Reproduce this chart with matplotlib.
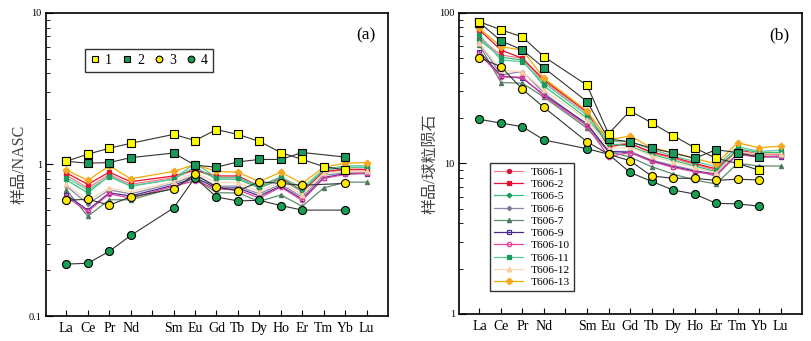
import numpy as np
import matplotlib
matplotlib.use("Agg")
import matplotlib.pyplot as plt
from matplotlib.ticker import LogLocator, FuncFormatter, NullFormatter
from matplotlib.lines import Line2D

plt.rcParams["font.family"] = ["Liberation Serif", "Noto Sans CJK SC"]

nan = np.nan
# element order on the x axis (Pm left blank)
elements = ["La", "Ce", "Pr", "Nd", "", "Sm", "Eu", "Gd", "Tb", "Dy", "Ho", "Er", "Tm", "Yb", "Lu"]
x_pos = [1, 2, 3, 4, 6, 7, 8, 9, 10, 11, 12, 13, 14, 15]

# reference groups 1-4, NASC normalised (panel a)
g1_a = [1.05, 1.17, 1.28, 1.38, 1.58, 1.44, 1.70, 1.58, 1.42, 1.20, 1.08, 0.97, 0.92, nan]
g2_a = [1.05, 1.02, 1.03, 1.11, 1.19, 0.99, 0.96, 1.04, 1.08, 1.08, 1.20, nan, 1.12, nan]
g3_a = [0.58, 0.59, 0.54, 0.61, 0.69, 0.86, 0.71, 0.67, 0.77, 0.75, 0.73, nan, 0.75, nan]
g4_a = [0.22, 0.223, 0.267, 0.34, 0.516, 0.82, 0.61, 0.575, 0.58, 0.536, 0.50, nan, 0.50, nan]

# reference groups 1-4, chondrite normalised (panel b)
g1_b = [87, 77, 69, 51, 33, 15.7, 22.3, 18.6, 15.3, 12.7, 10.8, 10.0, 9.0, nan]
g2_b = [86, 65, 56.5, 43, 25.7, 14.5, 13.9, 12.6, 11.7, 10.8, 12.3, 11.8, 11.0, nan]
g3_b = [50.2, 43.8, 31.0, 23.5, 13.9, 11.5, 10.4, 8.25, 7.96, 7.96, 7.7, 7.85, 7.75, nan]
g4_b = [19.6, 18.5, 17.5, 14.3, 12.5, 11.5, 8.7, 7.6, 6.65, 6.26, 5.43, 5.38, 5.2, nan]

# T606 samples, NASC normalised
t1_a = [0.85, 0.70, 0.86, 0.74, 0.82, 0.92, 0.82, 0.82, 0.70, 0.80, 0.66, 0.88, 0.92, 0.92]
t2_a = [0.88, 0.74, 0.89, 0.77, 0.84, 0.92, 0.84, 0.84, 0.72, 0.82, 0.67, 0.90, 0.93, 0.93]
t5_a = [0.79, 0.65, 0.84, 0.72, 0.80, 0.96, 0.80, 0.80, 0.70, 0.80, 0.67, 0.92, 0.96, 0.96]
t6_a = [0.72, 0.55, 0.68, 0.64, 0.75, 0.85, 0.72, 0.72, 0.64, 0.74, 0.61, 0.85, 0.88, 0.88]
t7_a = [0.68, 0.455, 0.585, 0.585, 0.70, 0.82, 0.65, 0.65, 0.57, 0.63, 0.53, 0.70, 0.765, 0.765]
t9_a = [0.63, 0.50, 0.65, 0.62, 0.73, 0.82, 0.70, 0.70, 0.62, 0.72, 0.59, 0.82, 0.87, 0.87]
t10_a = [0.61, 0.49, 0.64, 0.60, 0.72, 0.78, 0.69, 0.68, 0.60, 0.71, 0.58, 0.81, 0.86, 0.88]
t11_a = [0.82, 0.68, 0.83, 0.72, 0.80, 1.02, 0.82, 0.82, 0.72, 0.83, 0.70, 0.93, 0.98, 0.98]
t12_a = [0.74, 0.58, 0.70, 0.66, 0.77, 0.88, 0.76, 0.76, 0.66, 0.77, 0.63, 0.88, 0.90, 0.90]
t13_a = [0.92, 0.785, 0.98, 0.805, 0.90, 1.00, 0.90, 0.89, 0.77, 0.89, 0.75, 0.96, 1.02, 1.03]

# T606 samples, chondrite normalised
t1_b = [67.6, 52.4, 49.8, 34.9, 21.6, 13.2, 13.6, 11.7, 10.8, 9.85, 9.0, 12.0, 11.3, 11.5]
t2_b = [76.7, 56.5, 49.8, 35.8, 22.0, 12.9, 13.5, 11.9, 11.0, 10.0, 9.2, 12.3, 11.5, 11.6]
t5_b = [65.9, 50.6, 48.5, 32.6, 20.0, 13.5, 13.0, 11.5, 10.5, 9.6, 8.8, 12.5, 11.8, 11.8]
t6_b = [63.2, 38.6, 40.7, 29.3, 18.0, 12.0, 12.0, 10.5, 9.7, 9.0, 8.2, 11.5, 11.0, 11.0]
t7_b = [61.0, 34.4, 34.0, 27.5, 17.1, 12.0, 11.0, 9.5, 8.5, 7.75, 7.3, 10.0, 9.6, 9.6]
t9_b = [55.1, 38.0, 36.7, 28.5, 18.3, 12.0, 11.8, 10.4, 9.5, 8.9, 8.5, 11.5, 11.1, 11.1]
t10_b = [53.2, 37.5, 37.3, 28.0, 17.7, 11.1, 11.8, 10.3, 9.4, 8.8, 8.4, 11.5, 11.0, 11.2]
t11_b = [71.1, 48.5, 47.3, 34.1, 20.9, 14.0, 13.9, 12.4, 11.2, 10.3, 9.5, 12.9, 12.0, 12.2]
t12_b = [62.5, 41.6, 40.5, 30.5, 19.5, 12.5, 12.8, 11.2, 10.2, 9.4, 8.6, 12.0, 11.5, 11.6]
t13_b = [78.8, 59.4, 56.5, 36.7, 22.3, 14.3, 15.2, 12.7, 11.8, 10.8, 9.9, 13.7, 12.7, 13.0]

sample_names = ["T606-1", "T606-2", "T606-5", "T606-6", "T606-7",
                "T606-9", "T606-10", "T606-11", "T606-12", "T606-13"]
samples_a = [t1_a, t2_a, t5_a, t6_a, t7_a, t9_a, t10_a, t11_a, t12_a, t13_a]
samples_b = [t1_b, t2_b, t5_b, t6_b, t7_b, t9_b, t10_b, t11_b, t12_b, t13_b]

# (line colour, marker, marker face, marker edge, marker size)
sample_styles = [
    ("#f07a88", "o", "#d4163a", "#d4163a", 3.0),
    ("#e8102e", "s", "#e8102e", "#e8102e", 3.0),
    ("#3cbf80", "P", "#1a9a58", "#1a9a58", 3.0),
    ("#8f86a8", "D", "#7d7398", "#7d7398", 2.2),
    ("#5e8c6c", "^", "#4d7a5c", "#4d7a5c", 3.0),
    ("#4a2a90", "s", "none", "#4a2a90", 3.2),
    ("#e0409c", "o", "none", "#e0409c", 3.2),
    ("#5cc898", "s", "#1a9a5e", "#1a9a5e", 3.4),
    ("#f8d8b4", "^", "#f8d0a8", "#f8d0a8", 3.4),
    ("#f2aa00", "D", "#f5a820", "#f5a820", 3.4),
]

group_labels = ["1", "2", "3", "4"]
group_styles = [("s", "#ffff00"), ("s", "#1a9a5a"), ("o", "#ffe800"), ("o", "#18a050")]


def plot_series(ax, vals, **kw):
    v = np.array(vals, dtype=float)
    xs = np.array(x_pos)
    m = ~np.isnan(v)
    return ax.plot(xs[m], v[m], **kw)


fig = plt.figure(figsize=(8.11, 3.41), dpi=100)
ax_a = fig.add_axes([0.0567, 0.0733, 0.4217, 0.8886])
ax_b = fig.add_axes([0.566, 0.0792, 0.423, 0.8836])

for ax, samples, groups, ylim, ylabel, tag in [
    (ax_a, samples_a, [g1_a, g2_a, g3_a, g4_a], (0.1, 10), "样品/NASC", "(a)"),
    (ax_b, samples_b, [g1_b, g2_b, g3_b, g4_b], (1, 100), "样品/球粒陨石", "(b)"),
]:
    for vals, name, (lc, mk, mf, me, ms) in zip(samples, sample_names, sample_styles):
        plot_series(ax, vals, color=lc, lw=0.9, marker=mk, mfc=mf, mec=me,
                    ms=ms, mew=0.9, label=name, zorder=2)
    # draw group 4 first so group 1 ends up on top
    for vals, (mk, fc) in list(zip(groups, group_styles))[::-1]:
        plot_series(ax, vals, color="#333333", lw=0.8, marker=mk, mfc=fc,
                    mec="black", ms=5.8, mew=0.8, zorder=3)

    ax.set_yscale("log")
    ax.set_ylim(*ylim)
    ax.set_xlim(0.05, 16.0)
    ax.yaxis.set_major_locator(LogLocator(base=10))
    ax.yaxis.set_minor_locator(LogLocator(base=10, subs=np.arange(2, 10)))
    ax.yaxis.set_major_formatter(FuncFormatter(lambda v, p: f"{v:g}"))
    ax.yaxis.set_minor_formatter(NullFormatter())
    ax.set_xticks(range(1, 16))
    ax.set_xticklabels(elements, fontsize=10)
    ax.tick_params(axis="y", which="major", direction="in", length=5, labelsize=7.5, pad=3)
    ax.tick_params(axis="y", which="minor", direction="in", length=3)
    ax.tick_params(axis="x", direction="in", length=4, pad=4)
    for sp in ax.spines.values():
        sp.set_linewidth(1.2)
    ax.set_ylabel(ylabel, fontsize=11.5, color="#444444", labelpad=1)
    ax.text(0.935, 0.925, tag, transform=ax.transAxes, fontsize=12.5,
            ha="center", va="center")

# legend for reference groups (markers only)
group_handles = [Line2D([], [], ls="none", marker=mk, mfc=fc, mec="black", ms=4.8, mew=0.8)
                 for mk, fc in group_styles]
leg_a = ax_a.legend(group_handles, group_labels, loc="lower left",
                    bbox_to_anchor=(0.114, 0.805, 0.374, 0.093), mode="expand",
                    ncol=4, fontsize=10, frameon=True, fancybox=False,
                    handlelength=0.8, handletextpad=0.3, columnspacing=1.0,
                    borderpad=0.35, borderaxespad=0)
leg_a.get_frame().set_edgecolor("black")
leg_a.get_frame().set_linewidth(1.0)

leg_b = ax_b.legend(loc="lower left", bbox_to_anchor=(0.09, 0.076),
                    fontsize=8.2, frameon=True, fancybox=False, numpoints=1,
                    handlelength=2.6, handletextpad=0.6, labelspacing=0.2,
                    borderpad=0.35, borderaxespad=0)
leg_b.get_frame().set_edgecolor("black")
leg_b.get_frame().set_linewidth(1.0)

fig.savefig("out.png", dpi=100)
